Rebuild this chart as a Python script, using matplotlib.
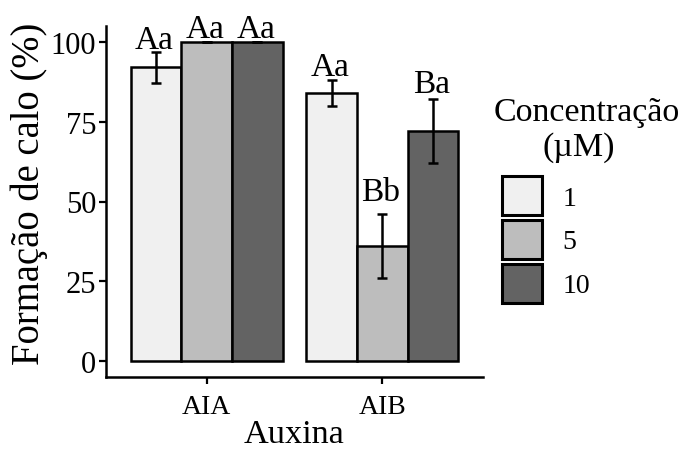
import numpy as np
import matplotlib
matplotlib.use("Agg")
import matplotlib.pyplot as plt
from matplotlib.patches import Patch

plt.rcParams['font.family'] = ['Liberation Serif', 'DejaVu Serif']

auxinas = ["AIA", "AIB"]
concentracoes = ["1", "5", "10"]
media = {"1": [92, 84], "5": [100, 36], "10": [100, 72]}
erro = {"1": [5, 4], "5": [0, 10], "10": [0, 10]}
letras = {"1": ["Aa", "Aa"], "5": ["Aa", "Bb"], "10": ["Aa", "Ba"]}
letra_y = {"1": [98.1, 89.7], "5": [101.6, 50.6], "10": [101.6, 84.2]}
cores = {"1": "#F0F0F0", "5": "#BDBDBD", "10": "#636363"}

fig = plt.figure(figsize=(6.84, 4.52), dpi=100)
ax = fig.add_axes([106/684, 1-378/452, (483-106)/684, (378-27)/452])

x = np.arange(len(auxinas))
w = 0.289
for i, c in enumerate(concentracoes):
    xi = x + (i - 1) * w
    ax.bar(xi, media[c], width=w, color=cores[c], edgecolor="black", linewidth=1.8, zorder=2)
    ax.errorbar(xi, media[c], yerr=erro[c], fmt="none", ecolor="black",
                elinewidth=1.8, capsize=3.7, capthick=1.8, zorder=3)
    for xx, lab, yy in zip(xi, letras[c], letra_y[c]):
        ax.text(xx - 0.01, yy, lab, ha="center", va="baseline", fontsize=24)

ax.set_xlim(-0.573, 1.573)
ax.set_ylim(-5, 105)
ax.set_xticks(x)
ax.set_xticklabels(auxinas, fontsize=20)
ax.set_yticks([0, 25, 50, 75, 100])
ax.tick_params(axis="y", labelsize=22, length=5, width=1.6, pad=2)
ax.tick_params(axis="x", length=5, width=1.6, pad=7)
for s in ["top", "right"]:
    ax.spines[s].set_visible(False)
for s in ["left", "bottom"]:
    ax.spines[s].set_linewidth(1.8)

ax.set_ylabel("Formação de calo (%)", fontsize=27.8, labelpad=2)
ax.yaxis.label.set_y(0.525)
ax.set_xlabel("Auxina", fontsize=24.7, labelpad=0)

handles = [Patch(facecolor=cores[c], edgecolor="black", linewidth=2.2) for c in concentracoes]
fs = 20
leg = fig.legend(handles, concentracoes, loc="upper left",
                 bbox_to_anchor=(502/684, 1-177/452), frameon=False,
                 fontsize=fs, handlelength=1.45, handleheight=1.8,
                 labelspacing=0.16, handletextpad=0.72, borderpad=0, borderaxespad=0)
fig.text(587/684, 1-113/452, "Concentração", ha="center", va="center", fontsize=24.5)
fig.text(579/684, 1-148/452, "(µM)", ha="center", va="center", fontsize=24.5)

fig.savefig("out.png", dpi=100)
